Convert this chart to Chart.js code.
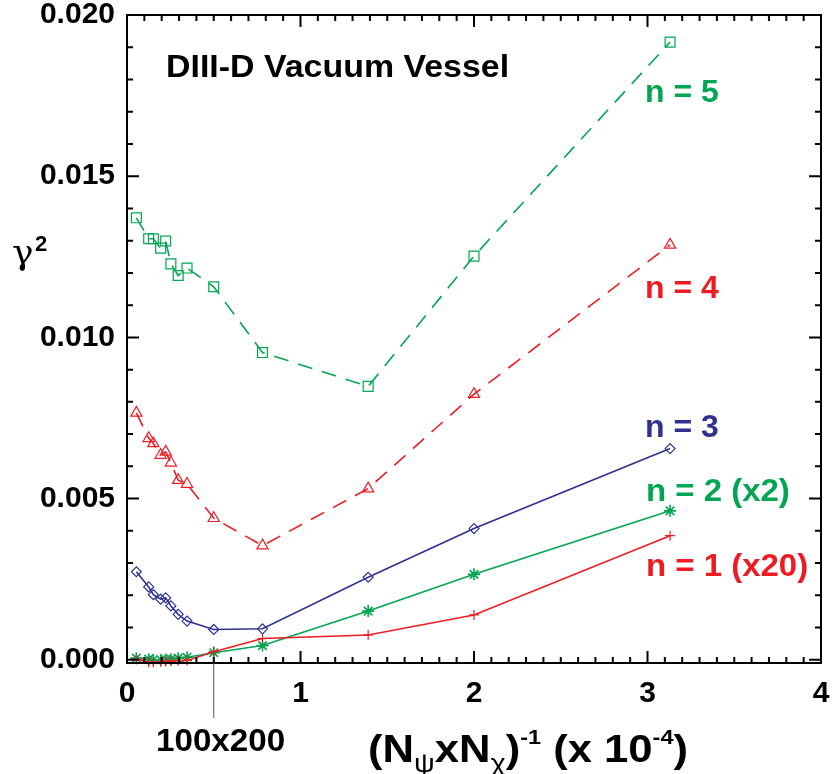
<!DOCTYPE html>
<html>
<head>
<meta charset="utf-8">
<script src="https://cdn.jsdelivr.net/npm/chart.js@4"></script>
<style>
  body { margin: 0; background: #fff; }
  canvas { display: block; }
</style>
</head>
<body>
<canvas id="chart" width="833" height="774"></canvas>
<script>
// grid resolution values, 1/(Npsi x Nchi) in units of 1e-4
const gridX = [0.054, 0.125, 0.152, 0.194, 0.223, 0.253, 0.295, 0.346, 0.5, 0.781, 1.39, 2.0, 3.13];

const n5 = [0.01371, 0.01306, 0.01306, 0.01277, 0.01299, 0.01228, 0.01192, 0.01215, 0.01157, 0.00953, 0.00848, 0.01252, 0.01916];
const n4 = [0.00766, 0.00687, 0.00671, 0.00635, 0.00645, 0.00611, 0.00557, 0.00545, 0.00439, 0.00354, 0.00531, 0.00824, 0.01287];
const n3 = [0.00273, 0.00226, 0.00202, 0.00188, 0.00192, 0.00167, 0.00141, 0.00120, 0.00094, 0.00096, 0.00256, 0.00407, 0.00655];
const n2 = [0.00005, 0.00002, 0.00000, 0.00000, 0.00001, 0.00002, 0.00005, 0.00008, 0.00022, 0.00044, 0.00151, 0.00265, 0.00462];
const n1 = [0.00002, -0.00008, -0.00008, -0.00006, -0.00005, -0.00004, -0.00003, -0.00002, 0.00025, 0.00066, 0.00077, 0.00139, 0.00385];

const yTicks = [0, 0.005, 0.010, 0.015, 0.020];
const xTicks = [0, 1, 2, 3, 4];

const GREEN = '#00a651';
const RED = '#ed1c24';
const BLUE = '#2e3192';
const SANS = '"Liberation Sans", Arial, sans-serif';

function pts(ys) {
    return gridX.map((x, i) => ({ x: x, y: ys[i] }));
}

function series(label, ys, color, style, radius, dashed) {
    return {
        label: label,
        data: pts(ys),
        showLine: true,
        borderColor: color,
        borderWidth: 1.6,
        borderDash: dashed ? [15, 10] : [],
        pointStyle: style,
        pointRadius: radius,
        pointBorderWidth: style === 'star' ? 1.6 : 1.2,
        pointBorderColor: color,
        pointBackgroundColor: 'rgba(0,0,0,0)',
        clip: false
    };
}

// text a bit wider than Liberation Sans gives, like the original Helvetica
function wideText(ctx, text, x, y, sx) {
    ctx.save();
    ctx.translate(x, y);
    ctx.scale(sx, 1);
    ctx.fillText(text, 0, 0);
    ctx.restore();
}

// box, inward ticks and the annotations
const decorations = {
    id: 'decorations',
    afterDraw(chart) {
        const ctx = chart.ctx;
        const a = chart.chartArea;
        const xs = chart.scales.x;
        const ys = chart.scales.y;
        ctx.save();
        ctx.strokeStyle = '#000';
        ctx.lineWidth = 2;
        ctx.strokeRect(a.left, a.top, a.right - a.left, a.bottom - a.top);

        ctx.beginPath();
        for (let i = 0; i <= 20; i++) {
            const py = ys.getPixelForValue(i * 0.001);
            const len = i % 5 === 0 ? 12 : 6;
            ctx.moveTo(a.left, py); ctx.lineTo(a.left + len, py);
            ctx.moveTo(a.right, py); ctx.lineTo(a.right - len, py);
        }
        for (let i = 0; i <= 40; i++) {
            const px = xs.getPixelForValue(i * 0.1);
            const len = i % 10 === 0 ? 12 : 6;
            ctx.moveTo(px, a.bottom); ctx.lineTo(px, a.bottom - len);
            ctx.moveTo(px, a.top); ctx.lineTo(px, a.top + len);
        }
        ctx.stroke();

        // 100x200 marker
        const mx = xs.getPixelForValue(0.5);
        ctx.strokeStyle = '#555';
        ctx.lineWidth = 1;
        ctx.beginPath();
        ctx.moveTo(mx, a.bottom);
        ctx.lineTo(mx, 718);
        ctx.stroke();

        ctx.fillStyle = '#000';
        ctx.textBaseline = 'alphabetic';
        ctx.textAlign = 'left';
        ctx.font = 'bold 31px ' + SANS;
        wideText(ctx, '100x200', 156, 751, 1.07);

        ctx.font = 'bold 32px ' + SANS;
        wideText(ctx, 'DIII-D Vacuum Vessel', 166, 77, 1.06);

        ctx.fillStyle = GREEN;
        ctx.fillText('n = 5', 645, 102);
        ctx.fillStyle = RED;
        ctx.fillText('n = 4', 645, 298);
        ctx.fillStyle = BLUE;
        ctx.fillText('n = 3', 645, 437);
        ctx.fillStyle = GREEN;
        wideText(ctx, 'n = 2 (x2)', 646, 501, 1.03);
        ctx.fillStyle = RED;
        wideText(ctx, 'n = 1 (x20)', 646, 576, 1.03);

        // y axis title
        ctx.fillStyle = '#000';
        ctx.font = '36px "DejaVu Serif", serif';
        ctx.fillText('\u03b3', 12, 264);
        ctx.font = 'bold 22px ' + SANS;
        ctx.fillText('2', 35, 251);

        // x axis title with sub- and superscripts
        const big = 'bold 39px ' + SANS;
        const sub = '26px ' + SANS;
        const sup = 'bold 21px ' + SANS;
        const parts = [
            ['(N', big, 0],
            ['\u03c8', sub, 10],
            ['xN', big, 0],
            ['\u03c7', sub, 10],
            [')', big, 0],
            ['-1', sup, -18],
            [' (x 10', big, 0],
            ['-4', sup, -18],
            [')', big, 0]
        ];
        let total = 0;
        for (const [t, f] of parts) {
            ctx.font = f;
            total += ctx.measureText(t).width;
        }
        ctx.save();
        ctx.translate(368, 762);
        ctx.scale(320 / total, 1);
        let tx = 0;
        for (const [t, f, dy] of parts) {
            ctx.font = f;
            ctx.fillText(t, tx, dy);
            tx += ctx.measureText(t).width;
        }
        ctx.restore();
        ctx.restore();
    }
};

new Chart(document.getElementById('chart'), {
    type: 'scatter',
    data: {
        datasets: [
            series('n = 5', n5, GREEN, 'rect', 7, true),
            series('n = 4', n4, RED, 'triangle', 6.5, true),
            series('n = 3', n3, BLUE, 'rectRot', 5, false),
            series('n = 1 (x20)', n1, RED, 'cross', 5, false),
            series('n = 2 (x2)', n2, GREEN, 'star', 6, false)
        ]
    },
    options: {
        responsive: false,
        animation: false,
        devicePixelRatio: 1,
        layout: { padding: { left: 0, top: 15, right: 12, bottom: 0 } },
        plugins: { legend: { display: false }, tooltip: { enabled: false } },
        scales: {
            x: {
                type: 'linear',
                min: 0,
                max: 4,
                grid: { display: false, drawTicks: false },
                border: { display: false },
                afterBuildTicks: (s) => { s.ticks = xTicks.map(v => ({ value: v })); },
                afterFit: (s) => { s.height = 111; s.paddingLeft = 0; s.paddingRight = 0; },
                ticks: {
                    padding: 13,
                    color: '#000',
                    font: { family: SANS, size: 30, weight: 'bold' },
                    callback: (v) => String(v)
                }
            },
            y: {
                type: 'linear',
                min: -0.0001,
                max: 0.020,
                grid: { display: false, drawTicks: false },
                border: { display: false },
                afterBuildTicks: (s) => { s.ticks = yTicks.map(v => ({ value: v })); },
                afterFit: (s) => { s.width = 127; s.paddingTop = 0; s.paddingBottom = 0; },
                ticks: {
                    padding: 12,
                    color: '#000',
                    font: { family: SANS, size: 30, weight: 'bold' },
                    callback: (v) => v.toFixed(3)
                }
            }
        }
    },
    plugins: [decorations]
});
</script>
</body>
</html>
